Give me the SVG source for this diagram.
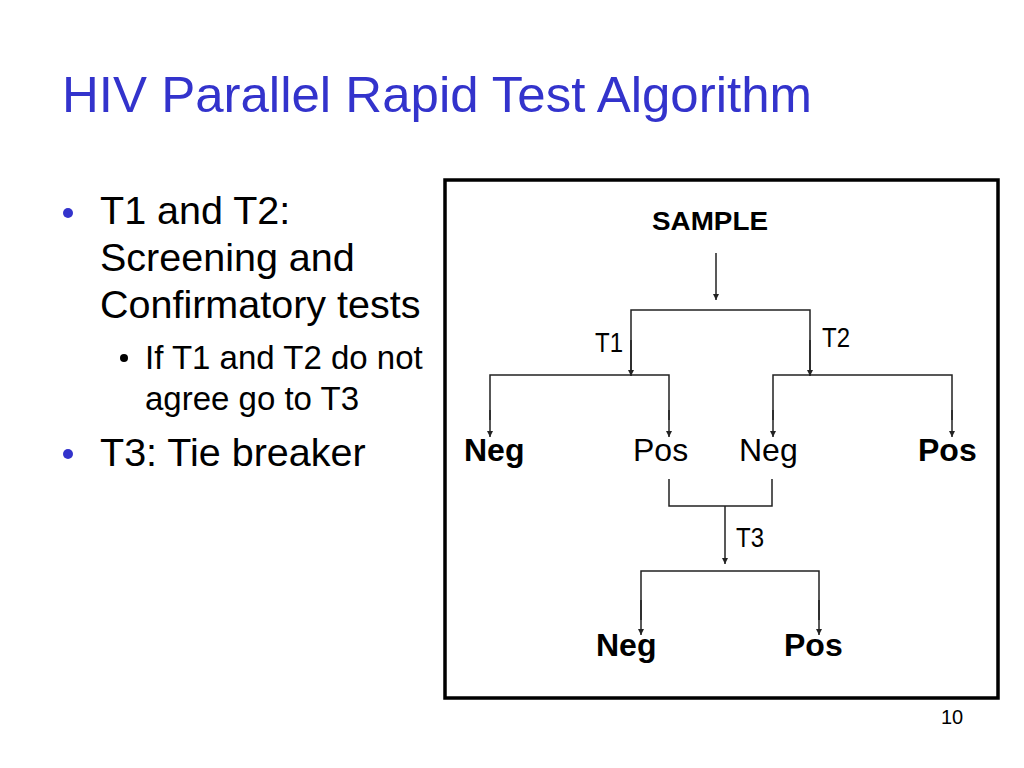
<svg xmlns="http://www.w3.org/2000/svg" width="1024" height="768" viewBox="0 0 1024 768">
<defs>
<marker id="ah" viewBox="0 0 10 10" refX="10" refY="5" markerWidth="6" markerHeight="6" markerUnits="userSpaceOnUse" orient="auto">
<path d="M0,0 L10,5 L0,10 z" fill="#222"/>
</marker>
</defs>
<style>
.t{font-family:"Liberation Sans",Arial,sans-serif;fill:#000}
.title{font-family:"Liberation Sans",Arial,sans-serif;fill:#3333CC;font-size:50px}
.b1{font-size:39.5px}
.b2{font-size:33px}
.lbl{font-size:32px}
.bold{font-weight:bold}
.small{font-size:24px}
.ln{fill:none;stroke:#222;stroke-width:1.5}
.arr{fill:none;stroke:#222;stroke-width:1.5;marker-end:url(#ah)}
</style>
<rect width="1024" height="768" fill="#fff"/>
<text id="title" class="title" x="62" y="112" textLength="750" lengthAdjust="spacingAndGlyphs">HIV Parallel Rapid Test Algorithm</text>
<g id="bullets">
<circle cx="68" cy="213" r="5" fill="#3333CC"/>
<text class="t b1" x="100" y="224">T1 and T2:</text>
<text class="t b1" x="100" y="271">Screening and</text>
<text class="t b1" x="100" y="318">Confirmatory tests</text>
<circle cx="124" cy="358" r="4" fill="#000"/>
<text class="t b2" x="145" y="369">If T1 and T2 do not</text>
<text class="t b2" x="145" y="410">agree go to T3</text>
<circle cx="68" cy="454" r="5" fill="#3333CC"/>
<text class="t b1" x="100" y="466">T3: Tie breaker</text>
</g>
<rect id="frame" x="445" y="180" width="553" height="518" fill="none" stroke="#000" stroke-width="3.5"/>
<g id="connectors">
<line class="arr" x1="716" y1="253" x2="716" y2="300"/>
<path class="ln" d="M631,374 V310 H810 V374"/>
<line class="arr" x1="631" y1="340" x2="631" y2="376"/>
<line class="arr" x1="810" y1="340" x2="810" y2="376"/>
<path class="ln" d="M490,420 V375 H669 V420"/>
<path class="ln" d="M773,420 V375 H952 V420"/>
<line class="arr" x1="490" y1="410" x2="490" y2="437"/>
<line class="arr" x1="669" y1="410" x2="669" y2="437"/>
<line class="arr" x1="773" y1="410" x2="773" y2="437"/>
<line class="arr" x1="952" y1="410" x2="952" y2="437"/>
<path class="ln" d="M669,479 V506 H772 V479"/>
<line class="arr" x1="725" y1="506" x2="725" y2="564"/>
<path class="ln" d="M641,620 V571 H819 V620"/>
<line class="arr" x1="641" y1="600" x2="641" y2="635"/>
<line class="arr" x1="819" y1="600" x2="819" y2="635"/>
</g>
<g id="sample"><text class="t bold" x="710" y="230" font-size="26" text-anchor="middle" textLength="116" lengthAdjust="spacingAndGlyphs">SAMPLE</text></g>
<g id="t1label"><text class="t small" x="595" y="352" transform="translate(0,-60) scale(1,1.17)">T1</text></g>
<g id="t2label"><text class="t small" x="822" y="348" transform="translate(0,-60) scale(1,1.17)">T2</text></g>
<g id="neg1"><text class="t lbl bold" x="464" y="461">Neg</text></g>
<g id="pos1"><text class="t lbl" x="633" y="461">Pos</text></g>
<g id="neg2"><text class="t lbl" x="739" y="461">Neg</text></g>
<g id="pos2"><text class="t lbl bold" x="918" y="461">Pos</text></g>
<g id="t3label"><text class="t small" x="736" y="547" transform="translate(0,-93) scale(1,1.17)">T3</text></g>
<g id="neg3"><text class="t lbl bold" x="596" y="656">Neg</text></g>
<g id="pos3"><text class="t lbl bold" x="784" y="656">Pos</text></g>
<text id="pagenum" class="t" x="941" y="724" font-size="20">10</text>
</svg>
